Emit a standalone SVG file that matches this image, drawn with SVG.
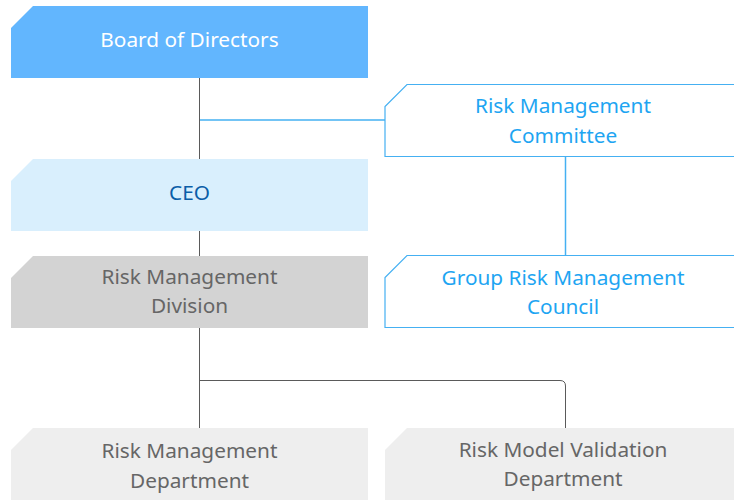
<svg xmlns="http://www.w3.org/2000/svg" width="734" height="500" viewBox="0 0 734 500">
  <style>
    .lbl { font-family: "Noto Sans", "Open Sans", "Liberation Sans", sans-serif; font-size: 20.8px; text-anchor: middle; }
    .board { fill: #62b6fe; }
    .ceo { fill: #d9effd; }
    .div { fill: #d3d3d3; }
    .dept { fill: #eeeeee; }
    .outline { fill: #ffffff; stroke: #45b0f2; stroke-width: 1.2; }
    .t-white { fill: #ffffff; }
    .t-navy { fill: #0b5ea8; }
    .t-gray { fill: #666666; }
    .t-blue { fill: #1ea5f2; }
    .ln-gray { fill: none; stroke: #5a5a5a; stroke-width: 1; }
    .ln-blue { fill: none; stroke: #45b0f2; stroke-width: 1.5; }
  </style>

  <!-- connectors -->
  <g id="connectors">
    <path class="ln-gray" d="M199.5 78 V428"/>
    <path class="ln-blue" d="M200 120 H385"/>
    <path class="ln-blue" d="M565.5 157 V255"/>
    <path class="ln-gray" d="M199.5 380.5 H560 Q565.5 380.5 565.5 386 V428"/>
  </g>

  <g id="board">
    <path class="board" d="M33 6 H368 V78 H11 V28 Z"/>
    <text class="lbl t-white" x="189.5" y="47">Board of Directors</text>
  </g>

  <g id="risk-committee">
    <path class="outline" d="M407 84.5 H745 V156.5 H385 V106.5 Z"/>
    <text class="lbl t-blue" x="563" y="113">Risk Management</text>
    <text class="lbl t-blue" x="563" y="143">Committee</text>
  </g>

  <g id="ceo">
    <path class="ceo" d="M33 159 H368 V231 H11 V181 Z"/>
    <text class="lbl t-navy" x="189.5" y="200">CEO</text>
  </g>

  <g id="risk-division">
    <path class="div" d="M33 256 H368 V328 H11 V278 Z"/>
    <text class="lbl t-gray" x="189.5" y="284">Risk Management</text>
    <text class="lbl t-gray" x="189.5" y="313">Division</text>
  </g>

  <g id="group-council">
    <path class="outline" d="M407 255.5 H745 V327.5 H385 V277.5 Z"/>
    <text class="lbl t-blue" x="563" y="285">Group Risk Management</text>
    <text class="lbl t-blue" x="563" y="314">Council</text>
  </g>

  <g id="risk-department">
    <path class="dept" d="M33 428 H368 V500 H11 V450 Z"/>
    <text class="lbl t-gray" x="189.5" y="458">Risk Management</text>
    <text class="lbl t-gray" x="189.5" y="488">Department</text>
  </g>

  <g id="validation-department">
    <path class="dept" d="M407 428 H734 V500 H385 V450 Z"/>
    <text class="lbl t-gray" x="563" y="456.5">Risk Model Validation</text>
    <text class="lbl t-gray" x="563" y="486">Department</text>
  </g>
</svg>
